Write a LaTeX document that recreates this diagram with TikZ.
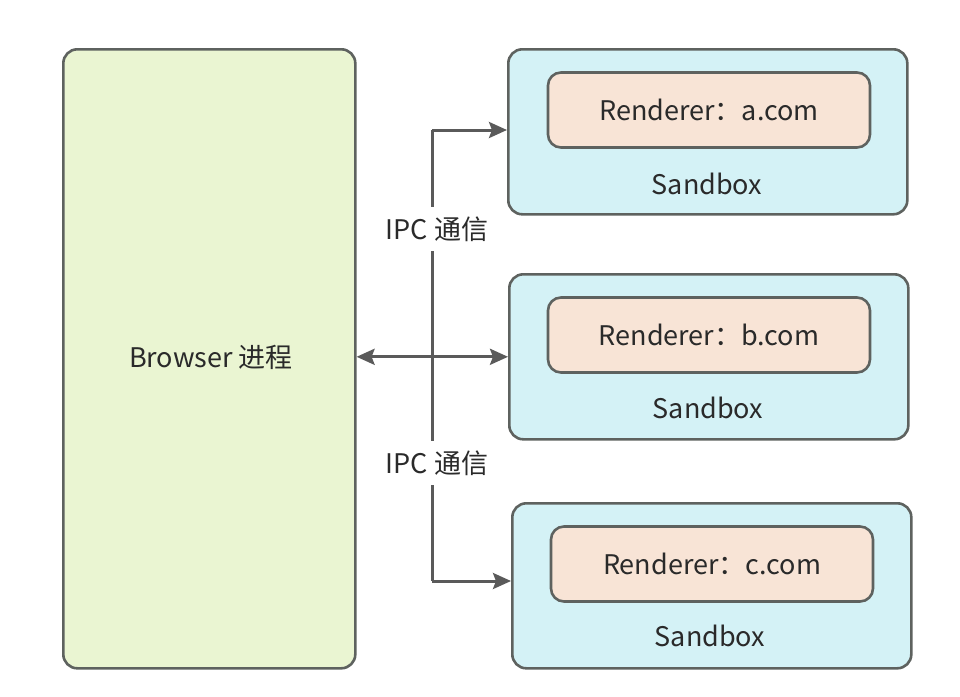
\documentclass[tikz,border=0pt]{standalone}
\usepackage{fontspec}
\setmainfont{Noto Sans CJK SC}
\usetikzlibrary{arrows.meta}
\definecolor{edge}{HTML}{5E625F}
\definecolor{lineg}{HTML}{5A5A5A}
\definecolor{brfill}{HTML}{EAF5D2}
\definecolor{sbfill}{HTML}{D4F2F6}
\definecolor{rdfill}{HTML}{F8E4D6}
\definecolor{txt}{HTML}{2A2A2A}
\tikzset{
  box/.style={draw=edge, line width=2.6pt, rounded corners=14pt, anchor=north west, inner sep=0pt, text=txt},
  browserbox/.style={box, fill=brfill, minimum width=292pt, minimum height=619pt},
  sandboxbox/.style={box, fill=sbfill, minimum width=399pt, minimum height=165pt},
  rendbox/.style={box, fill=rdfill, minimum width=322pt, minimum height=75pt, anchor=center, rounded corners=13pt},
  lbl/.style={font=\fontsize{27pt}{30pt}\selectfont, text=txt},
  conn/.style={draw=lineg, line width=3pt},
  arr/.style={conn, -{Stealth[length=18pt, width=16pt, inset=3pt]}},
  darr/.style={conn, {Stealth[length=18pt, width=16pt, inset=3pt]}-{Stealth[length=18pt, width=16pt, inset=3pt]}},
  ipc/.style={lbl, fill=white, inner xsep=2pt, inner ysep=10pt},
}
\begin{document}
\begin{tikzpicture}[x=1pt,y=-1pt]
\useasboundingbox (0,0) rectangle (960,696);
% boxes
\node[browserbox] (br) at (62,48) {};
\node[lbl] (brt) at (211,357) {Browser 进程};

\node[sandboxbox] (sa) at (507,48) {};
\node[rendbox] (ra) at (709,110) {};
\node[lbl] (rat) at (ra.center) {Renderer：a.com};
\node[lbl] (sat) at (707,184) {Sandbox};

\node[sandboxbox] (sb) at (508,273) {};
\node[rendbox] (rb) at (709,335) {};
\node[lbl] (rbt) at (rb.center) {Renderer：b.com};
\node[lbl] (sbt) at (708,408) {Sandbox};

\node[sandboxbox] (sc) at (511,502) {};
\node[rendbox] (rc) at (712,564) {};
\node[lbl] (rct) at (rc.center) {Renderer：c.com};
\node[lbl] (sct) at (710,636) {Sandbox};

% connectors
\coordinate (j1) at (432,130);
\coordinate (j2) at (432,581);
\draw[conn] (j1) -- (j2);
\draw[arr] (j1) -- (j1 -| sa.west);
\draw[arr] (j2) -- (j2 -| sc.west);
\draw[darr] (br.east |- sb.center) -- (sb.west);
\node[ipc] (ipc1) at (437,229) {IPC 通信};
\node[ipc] (ipc2) at (437,463) {IPC 通信};
\end{tikzpicture}
\end{document}
